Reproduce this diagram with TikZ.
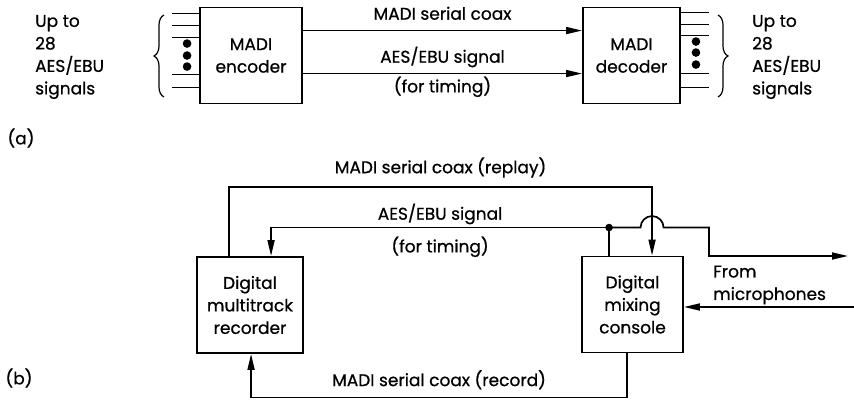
\documentclass[tikz,border=0pt]{standalone}
\usepackage{fontspec}
\setmainfont{Poppins}[FakeBold=0.7]
\usetikzlibrary{arrows.meta,positioning,decorations.pathreplacing,calc}
\tikzset{
  >={Triangle[length=16pt,width=7pt]},
  blk/.style={draw,line width=1.9pt,minimum width=#1,minimum height=96pt,
    align=center,inner sep=0pt},
  blk/.default=102pt,
  sig/.style={line width=1.7pt},
  lbl/.style={inner sep=2pt,text height=12pt,text depth=4pt},
  grp/.style={align=left,inner sep=0pt},
}

\begin{document}
\begin{tikzpicture}[x=1pt,y=-1pt,font=\fontsize{17}{22.5}\selectfont]
  \useasboundingbox (0,0) rectangle (854,401);
  % (a) encoder and decoder
  \node[blk=102pt] (enc) at (251,55.5) {MADI\\encoder};
  \node[blk=97pt] (dec) at (631.5,55.5) {MADI\\decoder};
  \draw[sig,->] ([yshift=-24pt]enc.north east) -- ([yshift=-24pt]dec.north west)
    node[lbl,midway,above=4pt] {MADI serial coax};
  \draw[sig,->] ([yshift=-67pt]enc.north east) -- ([yshift=-67pt]dec.north west)
    node[lbl,midway,above=4pt] {AES/EBU signal}
    node[lbl,midway,below=4pt] {(for timing)};
  % channel stubs
  \foreach \d in {7,19,31,68,81}
    \draw[sig] ([yshift=-\d pt]enc.north west) -- ++(-27,0);
  \foreach \d in {37,49,60}
    \fill ([xshift=-12pt,yshift=-\d pt]enc.north west) circle (4.3pt);
  \foreach \d in {6,18,29,67,81}
    \draw[sig] ([yshift=-\d pt]dec.north east) -- ++(28,0);
  \foreach \d in {35,46,58}
    \fill ([xshift=15pt,yshift=-\d pt]dec.north east) circle (4.3pt);
  \draw[line width=1.2pt,decorate,decoration={brace,amplitude=10pt}] (164,97) -- (164,15);
  \draw[line width=1.2pt,decorate,decoration={brace,amplitude=10pt}] (718,15) -- (718,97);
  \node[grp,anchor=west] (srcl) at (35,57) {Up to\\28\\AES/EBU\\signals};
  \node[grp,anchor=west] (srcr) at (752,57) {Up to\\28\\AES/EBU\\signals};
  \node[anchor=west] (taga) at (4,138) {(a)};

  % (b) recorder and console
  \node[blk=106pt] (rec) at (250,305) {Digital\\multitrack\\recorder};
  \node[blk=101pt] (mix) at (632.5,304.5) {Digital\\mixing\\console};
  \draw[sig,->] ([xshift=33pt]rec.north west) -- ++(0,-69) -| ([xshift=71pt]mix.north west)
    node[lbl,pos=0.25,above=7pt] {MADI serial coax (replay)};
  \draw[sig,->] ([xshift=28pt]mix.north west) -- ++(0,-28) coordinate (jn) -| ([xshift=75pt]rec.north west)
    node[lbl,pos=0.25,above=1pt] {AES/EBU signal}
    node[lbl,pos=0.25,below=10pt] {(for timing)};
  \fill (jn) circle (3.8pt);
  \coordinate (outr) at (848,256);
  \draw[sig,->] (jn) -- ++(31.5,0) arc[start angle=180,end angle=0,radius=11.5pt]
    -- ++(45.5,0) |- (outr);
  \draw[sig,->] ([xshift=46pt]mix.south west) -- ++(0,44) -| ([xshift=55pt]rec.south west)
    node[lbl,pos=0.25,above=4.5pt] {MADI serial coax (record)};
  \coordinate (inr) at (854,307);
  \draw[sig,->] (inr) -- (mix.east |- inr);
  \node[grp,anchor=west] (mic) at (713,285) {From\\microphones};
  \node[anchor=west] (tagb) at (2,378) {(b)};
\end{tikzpicture}
\end{document}
